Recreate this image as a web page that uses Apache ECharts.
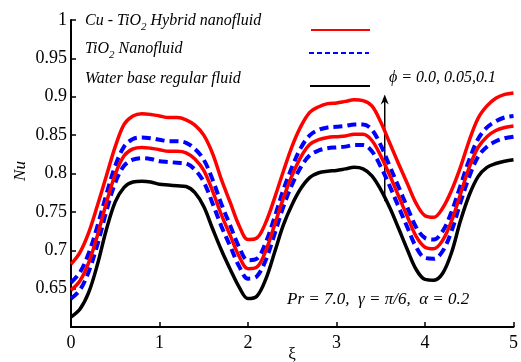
<!DOCTYPE html>
<html><head><meta charset="utf-8">
<script src="https://cdn.jsdelivr.net/npm/echarts@6/dist/echarts.min.js"></script>
<style>html,body{margin:0;padding:0;background:#fff}#c{width:521px;height:362px}</style>
</head><body><div id="c"></div>
<script>
// ---- data ----
var xi = [0.0,0.1,0.2,0.3,0.4,0.5,0.6,0.7,0.8,0.9,1.0,1.1,1.2,1.3,1.4,1.5,1.6,1.7,1.8,1.9,2.0,2.1,2.2,2.3,2.4,2.5,2.6,2.7,2.8,2.9,3.0,3.1,3.2,3.3,3.4,3.5,3.6,3.7,3.8,3.9,4.0,4.1,4.2,4.3,4.4,4.5,4.6,4.7,4.8,4.9,5.0];
var hybridPhi01 = [0.682,0.697,0.723,0.759,0.797,0.835,0.864,0.875,0.878,0.877,0.875,0.873,0.873,0.870,0.863,0.850,0.826,0.792,0.762,0.732,0.714,0.716,0.736,0.768,0.803,0.836,0.862,0.880,0.887,0.891,0.892,0.894,0.896,0.895,0.888,0.867,0.840,0.813,0.787,0.761,0.745,0.743,0.755,0.778,0.808,0.843,0.872,0.888,0.898,0.903,0.905];
var tio2Phi01 = [0.658,0.671,0.696,0.732,0.773,0.810,0.835,0.845,0.847,0.846,0.844,0.842,0.842,0.840,0.832,0.818,0.792,0.760,0.732,0.704,0.687,0.689,0.710,0.743,0.779,0.809,0.834,0.850,0.857,0.860,0.861,0.862,0.864,0.864,0.857,0.837,0.810,0.783,0.756,0.730,0.716,0.714,0.725,0.750,0.784,0.818,0.845,0.860,0.868,0.873,0.875];
var hybridPhi005 = [0.648,0.660,0.684,0.720,0.762,0.799,0.823,0.832,0.834,0.833,0.831,0.829,0.829,0.827,0.819,0.804,0.777,0.746,0.719,0.692,0.676,0.678,0.699,0.733,0.768,0.798,0.822,0.838,0.844,0.847,0.848,0.849,0.851,0.851,0.843,0.823,0.798,0.771,0.744,0.718,0.704,0.702,0.713,0.738,0.773,0.808,0.834,0.848,0.856,0.860,0.862];
var tio2Phi005 = [0.637,0.648,0.672,0.708,0.751,0.788,0.810,0.818,0.820,0.819,0.816,0.815,0.814,0.813,0.805,0.789,0.761,0.731,0.705,0.679,0.663,0.666,0.687,0.721,0.757,0.786,0.809,0.824,0.830,0.833,0.834,0.835,0.837,0.837,0.829,0.809,0.784,0.757,0.730,0.704,0.690,0.689,0.699,0.725,0.762,0.796,0.822,0.835,0.842,0.846,0.848];
var waterPhi0 = [0.613,0.623,0.645,0.682,0.727,0.763,0.782,0.789,0.790,0.789,0.786,0.785,0.784,0.783,0.775,0.757,0.728,0.700,0.675,0.652,0.637,0.640,0.662,0.697,0.733,0.760,0.781,0.795,0.801,0.803,0.804,0.806,0.808,0.806,0.797,0.779,0.756,0.729,0.701,0.675,0.662,0.661,0.670,0.697,0.738,0.772,0.796,0.808,0.813,0.816,0.818];
var xTicks = [0,1,2,3,4,5];
var yTicks = [0.65,0.7,0.75,0.8,0.85,0.9,0.95,1];
var legendNames = ['Cu - TiO{sub|2} Hybrid nanofluid','TiO{sub|2} Nanofluid','Water base regular fluid'];
var phiNote = '\u03d5 = 0.0, 0.05,0.1';
var paramNote = 'Pr = 7.0,  \u03b3 = \u03c0/6,  \u03b1 = 0.2';

function pairs(ys){ return xi.map(function(x,i){ return [x, ys[i]]; }); }

var FONT = 'Liberation Serif';
var RED = '#ff0000', BLUE = '#0000ff', BLACK = '#000000';

var chart = echarts.init(document.getElementById('c'), null, {renderer:'canvas'});

function mkLine(name, ys, color, dashed){
  return {
    name: name, type: 'line', data: pairs(ys), showSymbol: false, smooth: 0.35,
    lineStyle: {color: color, width: dashed ? 4 : 3.5, type: dashed ? [9,5] : 'solid', cap: 'butt'},
    itemStyle: {color: color}, silent: true, animation: false
  };
}

var option = {
  animation: false,
  grid: {left: 71, right: 4, top: 20, bottom: 35, containLabel: false},
  xAxis: {
    type: 'value', min: 0, max: 5, interval: 1,
    axisLine: {show: true, lineStyle: {color: BLACK, width: 2}},
    axisTick: {show: true, inside: true, length: 5, lineStyle: {color: BLACK, width: 1.5}},
    axisLabel: {color: BLACK, fontFamily: FONT, fontSize: 18, margin: 7,
      formatter: function(v){ return xTicks.indexOf(Math.round(v*100)/100) >= 0 ? String(v) : ''; }},
    splitLine: {show: false}
  },
  yAxis: {
    type: 'value', min: 0.6, max: 1, interval: 0.05,
    axisLine: {show: true, lineStyle: {color: BLACK, width: 2}},
    axisTick: {show: true, inside: true, length: 5, lineStyle: {color: BLACK, width: 1.5}},
    axisLabel: {color: BLACK, fontFamily: FONT, fontSize: 18, margin: 4,
      formatter: function(v){ var r = Math.round(v*100)/100; return yTicks.indexOf(r) >= 0 ? String(r) : ''; }},
    splitLine: {show: false}
  },
  series: [
    mkLine('water', waterPhi0, BLACK, false),
    mkLine('tio2 0.1', tio2Phi01, BLUE, true),
    mkLine('tio2 0.05', tio2Phi005, BLUE, true),
    mkLine('hybrid 0.1', hybridPhi01, RED, false),
    mkLine('hybrid 0.05', hybridPhi005, RED, false)
  ]
};
chart.setOption(option);

var rich = {sub: {fontSize: 11, fontStyle: 'italic', fontFamily: FONT, padding: [13,0,0,0]}};
function txt(x, y, s, size){
  return {type: 'text', x: x, y: y, silent: true,
    style: {text: s, fontFamily: FONT, fontSize: size || 16, fontStyle: 'italic', fill: BLACK,
      textVerticalAlign: 'middle', verticalAlign: 'middle', rich: rich}};
}
var p0 = chart.convertToPixel({gridIndex: 0}, [3.545, 0.764]);
var p1 = chart.convertToPixel({gridIndex: 0}, [3.545, 0.903]);

chart.setOption({graphic: [
  txt(85, 21, legendNames[0]),
  txt(85, 49, legendNames[1]),
  txt(85, 79, legendNames[2]),
  {type: 'line', shape: {x1: 311, y1: 30, x2: 370, y2: 30}, style: {stroke: RED, lineWidth: 2}},
  {type: 'line', shape: {x1: 309, y1: 53, x2: 369, y2: 53}, style: {stroke: BLUE, lineWidth: 2, lineDash: [5,3]}},
  {type: 'line', shape: {x1: 310, y1: 86, x2: 370, y2: 86}, style: {stroke: BLACK, lineWidth: 2}},
  txt(389, 78, phiNote),
  txt(287, 300, paramNote, 17),
  {type: 'line', shape: {x1: p0[0], y1: p0[1], x2: p1[0], y2: p1[1] + 4}, style: {stroke: BLACK, lineWidth: 1.5}},
  {type: 'polygon', shape: {points: [[p1[0], p1[1]], [p1[0]-4, p1[1]+10], [p1[0], p1[1]+7], [p1[0]+4, p1[1]+10]]}, style: {fill: BLACK}},
  {type: 'text', x: 21, y: 171, rotation: Math.PI/2, silent: true,
    style: {text: 'Nu', fontFamily: FONT, fontSize: 17, fontStyle: 'italic', fill: BLACK, textAlign: 'center', textVerticalAlign: 'middle', align: 'center', verticalAlign: 'middle'}},
  {type: 'text', x: 292, y: 355, silent: true,
    style: {text: '\u03be', fontFamily: FONT, fontSize: 17, fill: BLACK, textAlign: 'center', textVerticalAlign: 'middle', align: 'center', verticalAlign: 'middle'}}
]});
</script></body></html>
